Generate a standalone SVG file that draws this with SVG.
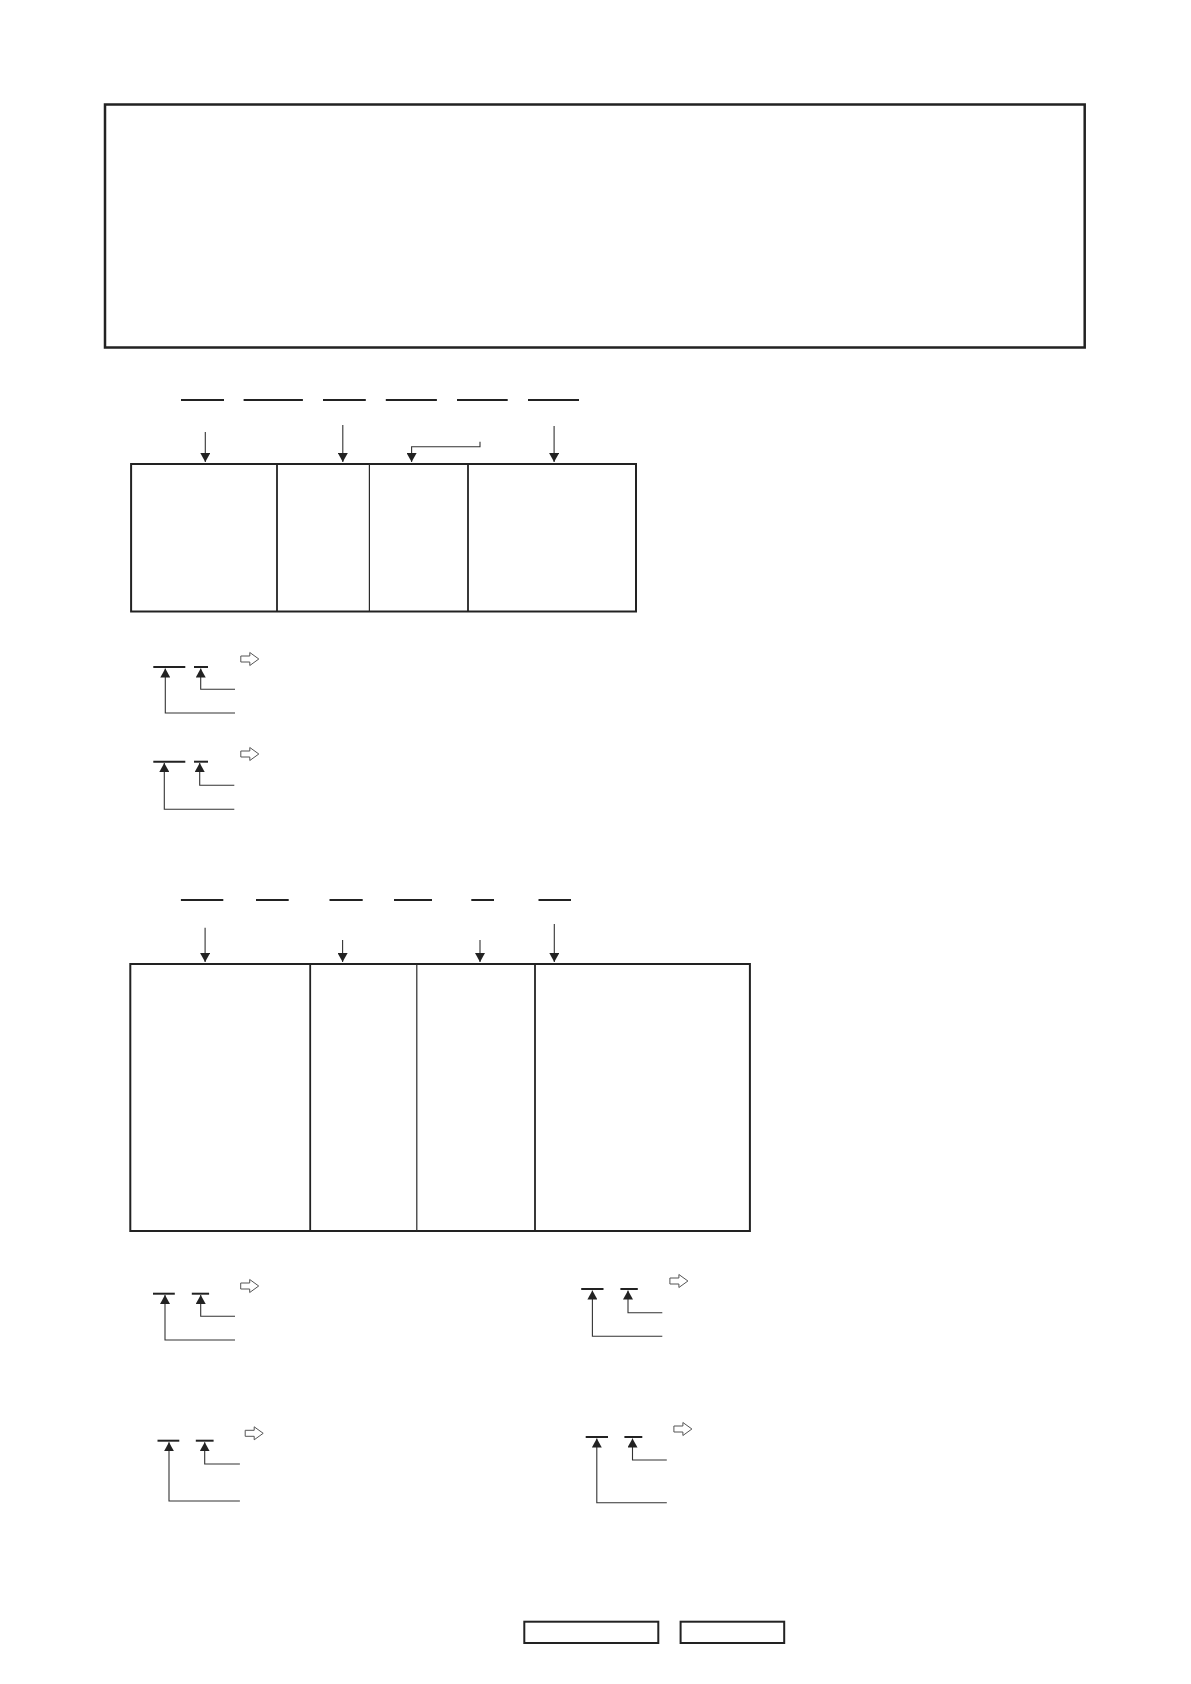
<svg xmlns="http://www.w3.org/2000/svg" width="1191" height="1684" viewBox="0 0 1191 1684">
<style>
.box{fill:#fff;stroke:#222;stroke-width:2}
.big{fill:#fff;stroke:#222;stroke-width:2.5}
.div{stroke:#222;stroke-width:1.8;fill:none}
.divt{stroke:#2a2a2a;stroke-width:1.2;fill:none}
.dash{stroke:#222;stroke-width:2;fill:none}
.conn{stroke:#333;stroke-width:1.1;fill:none;marker-end:url(#ah)}
.hollow{fill:#fff;stroke:#555;stroke-width:1}
</style>
<defs>
<marker id="ah" markerUnits="userSpaceOnUse" markerWidth="9" markerHeight="10" viewBox="0 0 9 10" refX="9" refY="5" orient="auto">
<path d="M0,0 L9,5 L0,10 z" fill="#222"/>
</marker>
<path id="harrow" d="M0,-3 H9 V-6.5 L18,0 L9,6.5 V3 H0 Z"/>
</defs>
<rect width="1191" height="1684" fill="#fff"/>

<g id="header-box"><rect class="big" x="105" y="104.5" width="979.7" height="243"/></g>

<g id="code1-fields">
<line class="dash" x1="181" y1="400" x2="224" y2="400"/>
<line class="dash" x1="243.6" y1="400" x2="302.9" y2="400"/>
<line class="dash" x1="323" y1="400" x2="365.8" y2="400"/>
<line class="dash" x1="385.8" y1="400" x2="436.9" y2="400"/>
<line class="dash" x1="457" y1="400" x2="507.7" y2="400"/>
<line class="dash" x1="528" y1="400" x2="579" y2="400"/>
</g>

<g id="table1">
<rect class="box" x="131.1" y="464" width="504.9" height="147.5"/>
<line class="div" x1="277" y1="464" x2="277" y2="611.5"/>
<line class="divt" x1="369.4" y1="464" x2="369.4" y2="611.5"/>
<line class="div" x1="468" y1="464" x2="468" y2="611.5"/>
</g>

<g id="code2-fields">
<line class="dash" x1="180.9" y1="900" x2="223.3" y2="900"/>
<line class="dash" x1="256" y1="900" x2="288.7" y2="900"/>
<line class="dash" x1="329.5" y1="900" x2="362.7" y2="900"/>
<line class="dash" x1="394" y1="900" x2="432" y2="900"/>
<line class="dash" x1="471.3" y1="900" x2="494" y2="900"/>
<line class="dash" x1="538.5" y1="900" x2="571" y2="900"/>
</g>

<g id="table2">
<rect class="box" x="130.3" y="964" width="619.6" height="267"/>
<line class="div" x1="310.2" y1="964" x2="310.2" y2="1231"/>
<line class="divt" x1="416.8" y1="964" x2="416.8" y2="1231"/>
<line class="div" x1="535" y1="964" x2="535" y2="1231"/>
</g>

<g id="legend1">
<line class="dash" x1="153.3" y1="667" x2="185.3" y2="667"/>
<line class="dash" x1="194" y1="667" x2="208" y2="667"/>
<use href="#harrow" class="hollow" transform="translate(240.8,659)"/>
</g>
<g id="legend2">
<line class="dash" x1="153.3" y1="761.7" x2="185.3" y2="761.7"/>
<line class="dash" x1="194" y1="761.7" x2="208" y2="761.7"/>
<use href="#harrow" class="hollow" transform="translate(240.8,754)"/>
</g>
<g id="legendA">
<line class="dash" x1="153" y1="1293.7" x2="174.8" y2="1293.7"/>
<line class="dash" x1="191.8" y1="1293.7" x2="209.1" y2="1293.7"/>
<use href="#harrow" class="hollow" transform="translate(240.7,1286)"/>
</g>
<g id="legendB">
<line class="dash" x1="581.2" y1="1289" x2="603.5" y2="1289"/>
<line class="dash" x1="620.4" y1="1289" x2="637.8" y2="1289"/>
<use href="#harrow" class="hollow" transform="translate(669.9,1281)"/>
</g>
<g id="legendC">
<line class="dash" x1="157.5" y1="1440.7" x2="179.3" y2="1440.7"/>
<line class="dash" x1="195.8" y1="1440.7" x2="213.6" y2="1440.7"/>
<use href="#harrow" class="hollow" transform="translate(245.2,1433.3)"/>
</g>
<g id="legendD">
<line class="dash" x1="585.7" y1="1437" x2="608" y2="1437"/>
<line class="dash" x1="624.4" y1="1437" x2="642.3" y2="1437"/>
<use href="#harrow" class="hollow" transform="translate(673.9,1429)"/>
</g>

<g id="footer-box1"><rect class="box" x="524.3" y="1621.7" width="134" height="21.3"/></g>
<g id="footer-box2"><rect class="box" x="680.6" y="1621.7" width="103.6" height="21.3"/></g>

<g id="connectors">
<path class="conn" d="M205.3,432 V462"/>
<path class="conn" d="M342.8,425 V462"/>
<path class="conn" d="M480,441.7 V446.7 H411.6 V462"/>
<path class="conn" d="M554.1,426 V462"/>

<path class="conn" d="M205.1,927.7 V962"/>
<path class="conn" d="M342.6,940 V962"/>
<path class="conn" d="M480,940 V962"/>
<path class="conn" d="M554.3,924 V962"/>

<path class="conn" d="M235,713 H165.3 V668.5"/>
<path class="conn" d="M235,689.3 H200.7 V668.5"/>
<path class="conn" d="M234.3,809.3 H164.3 V763"/>
<path class="conn" d="M234.3,785.3 H199.7 V763"/>
<path class="conn" d="M235,1340 H165 V1295"/>
<path class="conn" d="M235,1316.3 H200.7 V1295"/>
<path class="conn" d="M662.3,1336.3 H592.4 V1290.5"/>
<path class="conn" d="M662.3,1312.7 H628 V1290.5"/>
<path class="conn" d="M239.9,1501 H169 V1442.2"/>
<path class="conn" d="M239.9,1464 H204.7 V1442.2"/>
<path class="conn" d="M666.8,1502.7 H596.8 V1438.5"/>
<path class="conn" d="M666.8,1460 H632.5 V1438.5"/>
</g>
</svg>
